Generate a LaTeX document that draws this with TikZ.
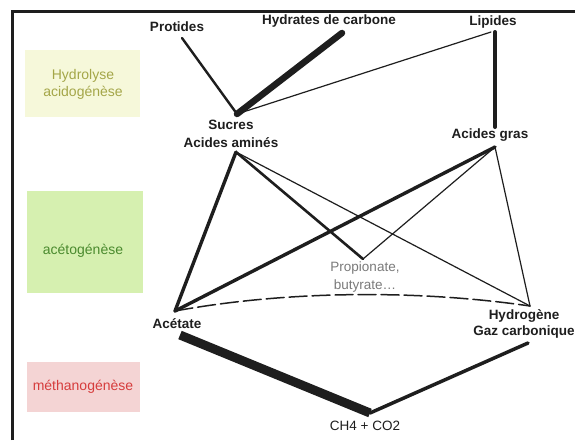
\documentclass[tikz,border=0pt]{standalone}
\usepackage{fontspec}
\setmainfont{Liberation Sans}
\definecolor{ink}{HTML}{1E1E1E}
\definecolor{hydrofill}{HTML}{F6F8DA}
\definecolor{hydrotext}{HTML}{A4A648}
\definecolor{acetofill}{HTML}{D6F0B0}
\definecolor{acetotext}{HTML}{4A8A2E}
\definecolor{methafill}{HTML}{F4D4D4}
\definecolor{methatext}{HTML}{D63C3C}
\definecolor{soft}{HTML}{7A7A7A}
\tikzset{
  species/.style={font=\fontsize{13.5}{16}\selectfont\bfseries, text=ink, align=center, inner sep=0pt},
  minor/.style={font=\fontsize{13.5}{18}\selectfont, text=soft, align=center, inner sep=0pt},
  phasebox/.style={draw=none, inner sep=0pt, anchor=north west},
  phaselabel/.style={font=\fontsize{14}{17}\selectfont, align=center, inner sep=0pt},
  link/.style={draw=ink, line cap=round, line join=round},
  thin link/.style={link, line width=1.2pt},
  mid link/.style={link, line width=2.6pt},
  heavy link/.style={link, line width=3.4pt},
}
\begin{document}
\begin{tikzpicture}[x=1pt, y=-1pt]
\useasboundingbox (0,0) rectangle (575,440);
\fill[white] (0,0) rectangle (575,440);

% phase panels on the left
\node[phasebox, fill=hydrofill, minimum width=115pt, minimum height=67pt] (hydrobox) at (25,50) {};
\node[phaselabel, text=hydrotext] (hydrolab) at (83,84.5) {Hydrolyse\\acidogénèse};
\node[phasebox, fill=acetofill, minimum width=116pt, minimum height=102pt] (acetobox) at (27,191) {};
\node[phaselabel, text=acetotext] (acetolab) at (83,251) {acétogénèse};
\node[phasebox, fill=methafill, minimum width=113pt, minimum height=50pt] (methabox) at (27,362) {};
\node[phaselabel, text=methatext] (methalab) at (83,387) {méthanogénèse};

% frame
\draw[ink, line width=3pt] (12.5,440) -- (12.5,11.5) -- (575,11.5);

% substances
\node[species] (prot) at (177,27) {Protides};
\node[species] (hydr) at (329,21) {Hydrates de carbone};
\node[species] (lip) at (493,22) {Lipides};
\node[species, font=\fontsize{13.5}{18}\selectfont\bfseries] (suc) at (231,134) {Sucres\\Acides aminés};
\node[species] (agr) at (490,135) {Acides gras};
\node[minor] (prop) at (365,277) {Propionate,\\butyrate\dots};
\node[species] (acet) at (177,324) {Acétate};
\node[species, font=\fontsize{13.5}{16}\selectfont\bfseries] (hyd) at (524,324) {Hydrogène\\Gaz carbonique};
\node[species, font=\fontsize{13.5}{16}\selectfont] (ch4) at (365,426) {CH4 + CO2};

% junction points next to the labels
\coordinate (prot-s) at (182,38);
\coordinate (hydr-s) at (342,33);
\coordinate (lip-s) at (491,32);
\coordinate (lip-v) at (495,32);
\coordinate (suc-n) at (237,114);
\coordinate (suc-s) at (236,152);
\coordinate (agr-n) at (495,127);
\coordinate (agr-s) at (495,147);
\coordinate (prop-n) at (363,259);
\coordinate (acet-n) at (175,311);
\coordinate (acet-s) at (180,335);
\coordinate (hyd-n) at (530,306);
\coordinate (hyd-s) at (528,343);
\coordinate (ch4-n) at (370,413);

% hydrolysis
\draw[link, line width=2.4pt] (prot-s) -- (suc-n);
\draw[link, line width=6.5pt] (hydr-s) -- (suc-n);
\draw[thin link] (lip-s) -- (suc-n);
\draw[link, line width=4pt] (lip-v) -- (agr-n);

% acetogenesis
\draw[heavy link] (suc-s) -- (acet-n);
\draw[mid link] (suc-s) -- (prop-n);
\draw[thin link] (suc-s) -- (hyd-n);
\draw[heavy link] (agr-s) -- (acet-n);
\draw[thin link] (agr-s) -- (prop-n);
\draw[thin link] (agr-s) -- (hyd-n);
\draw[link, line width=1.5pt, dash pattern=on 18pt off 5pt] (acet-n) .. controls (290,290) and (420,290) .. (hyd-n);

% methanogenesis
\draw[link, line width=9pt, line cap=butt] (acet-s) -- (ch4-n);
\draw[link, line width=3.5pt] (ch4-n) -- (hyd-s);
\end{tikzpicture}
\end{document}
